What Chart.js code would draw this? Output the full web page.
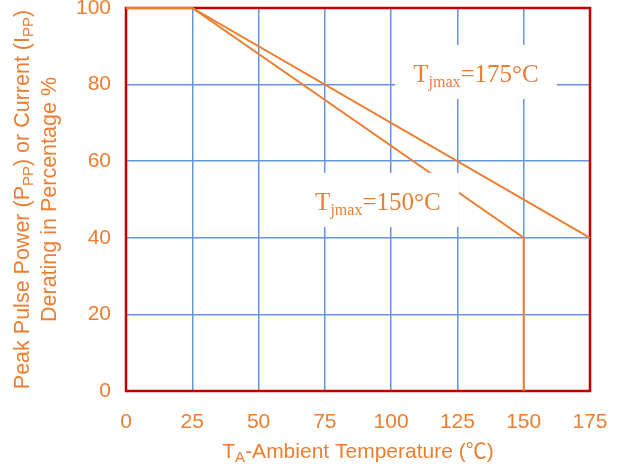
<!DOCTYPE html>
<html>
<head>
<meta charset="utf-8">
<script src="https://cdn.jsdelivr.net/npm/chart.js@4.4.1/dist/chart.umd.min.js"></script>
<style>
  html, body { margin: 0; padding: 0; background: #fff; }
  canvas { display: block; }
</style>
</head>
<body>
<canvas id="chart" width="622" height="466" style="width:622px;height:466px"></canvas>
<script>
// Data
const temps175 = [0, 25, 175];
const derate175 = [100, 100, 40];
const temps150 = [0, 25, 150, 150];
const derate150 = [100, 100, 40, 0];
const xTicks = [0, 25, 50, 75, 100, 125, 150, 175];
const yTicks = [0, 20, 40, 60, 80, 100];

// Colours
const ORANGE = '#ED7D31';
const GRID = '#6495DD';
const FRAME = '#C00000';

const SANS = '"Liberation Sans", Arial, "Noto Sans CJK SC", sans-serif';
const SERIF = '"Liberation Serif", "Times New Roman", serif';

function toPoints(xs, ys) {
    return xs.map((x, i) => ({ x: x, y: ys[i] }));
}

// draws text made of normal / subscript parts, centred on x at baseline y
function drawRich(ctx, parts, x, y, size, subSize, drop, family) {
    let total = 0;
    parts.forEach(p => {
        ctx.font = (p.sub ? subSize : size) + 'px ' + family;
        p.w = ctx.measureText(p.t).width;
        total += p.w;
    });
    let cx = x - total / 2;
    ctx.textAlign = 'left';
    ctx.textBaseline = 'alphabetic';
    parts.forEach(p => {
        ctx.font = (p.sub ? subSize : size) + 'px ' + family;
        ctx.fillText(p.t, cx, y + (p.sub ? drop : 0));
        cx += p.w;
    });
}

const decorations = {
    id: 'decorations',
    beforeDatasetsDraw(chart) {
        const { ctx, chartArea: a } = chart;
        ctx.save();
        ctx.strokeStyle = FRAME;
        ctx.lineWidth = 2.5;
        ctx.strokeRect(a.left, a.top, a.right - a.left, a.bottom - a.top);
        ctx.restore();
    },
    afterDatasetsDraw(chart) {
        const { ctx, scales } = chart;
        const labels = [
            { x: 132, y: 83.3, text: '=175°C' },
            { x: 95, y: 49.9, text: '=150°C' }
        ];
        ctx.save();
        labels.forEach(l => {
            const px = scales.x.getPixelForValue(l.x);
            const py = scales.y.getPixelForValue(l.y);
            ctx.fillStyle = '#fff';
            ctx.fillRect(px - 81, py - 27, 162, 54);
            ctx.fillStyle = ORANGE;
            drawRich(ctx, [{ t: 'T' }, { t: 'jmax', sub: true }, { t: l.text }],
                px, py + 10, 25, 16, 5, SERIF);
        });
        ctx.restore();
    },
    afterDraw(chart) {
        const { ctx, chartArea: a } = chart;
        ctx.save();
        ctx.fillStyle = ORANGE;
        // x axis title
        drawRich(ctx, [{ t: 'T' }, { t: 'A', sub: true }, { t: '-Ambient Temperature (' },
            { t: '℃' }, { t: ')' }],
            (a.left + a.right) / 2, 458, 21, 15, 4, SANS);
        // y axis title, two lines
        const cy = (a.top + a.bottom) / 2;
        ctx.translate(29, cy);
        ctx.rotate(-Math.PI / 2);
        drawRich(ctx, [{ t: 'Peak Pulse Power (P' }, { t: 'PP', sub: true }, { t: ') or Current (I' },
            { t: 'PP', sub: true }, { t: ')' }], 0, 0, 21.5, 15, 4, SANS);
        drawRich(ctx, [{ t: 'Derating in Percentage %' }], 0, 27, 21.5, 15, 4, SANS);
        ctx.restore();
    }
};

const lineStyle = {
    borderColor: ORANGE,
    borderWidth: 2,
    pointRadius: 0,
    showLine: true,
    fill: false,
    tension: 0,
    clip: false
};

new Chart(document.getElementById('chart'), {
    type: 'scatter',
    data: {
        datasets: [
            Object.assign({ label: 'Tjmax=175', data: toPoints(temps175, derate175) }, lineStyle),
            Object.assign({ label: 'Tjmax=150', data: toPoints(temps150, derate150) }, lineStyle)
        ]
    },
    options: {
        responsive: false,
        animation: false,
        devicePixelRatio: 1,
        layout: { padding: { left: 0, top: 8, right: 32, bottom: 0 } },
        plugins: {
            legend: { display: false },
            tooltip: { enabled: false }
        },
        scales: {
            x: {
                type: 'linear',
                min: 0,
                max: 175,
                afterBuildTicks: s => { s.ticks = xTicks.map(v => ({ value: v })); },
                afterFit: s => { s.height = 75; s.paddingLeft = 0; s.paddingRight = 0; },
                grid: { color: GRID, lineWidth: 1.5, drawTicks: false },
                border: { display: false },
                ticks: {
                    color: ORANGE,
                    padding: 19,
                    font: { family: SANS, size: 21 },
                    maxRotation: 0
                }
            },
            y: {
                min: 0,
                max: 100,
                afterBuildTicks: s => { s.ticks = yTicks.map(v => ({ value: v })); },
                afterFit: s => { s.width = 126; s.paddingTop = 0; s.paddingBottom = 0; },
                grid: { color: GRID, lineWidth: 1.5, drawTicks: false },
                border: { display: false },
                ticks: {
                    color: ORANGE,
                    padding: 15,
                    font: { family: SANS, size: 21 }
                }
            }
        }
    },
    plugins: [decorations]
});
</script>
</body>
</html>
